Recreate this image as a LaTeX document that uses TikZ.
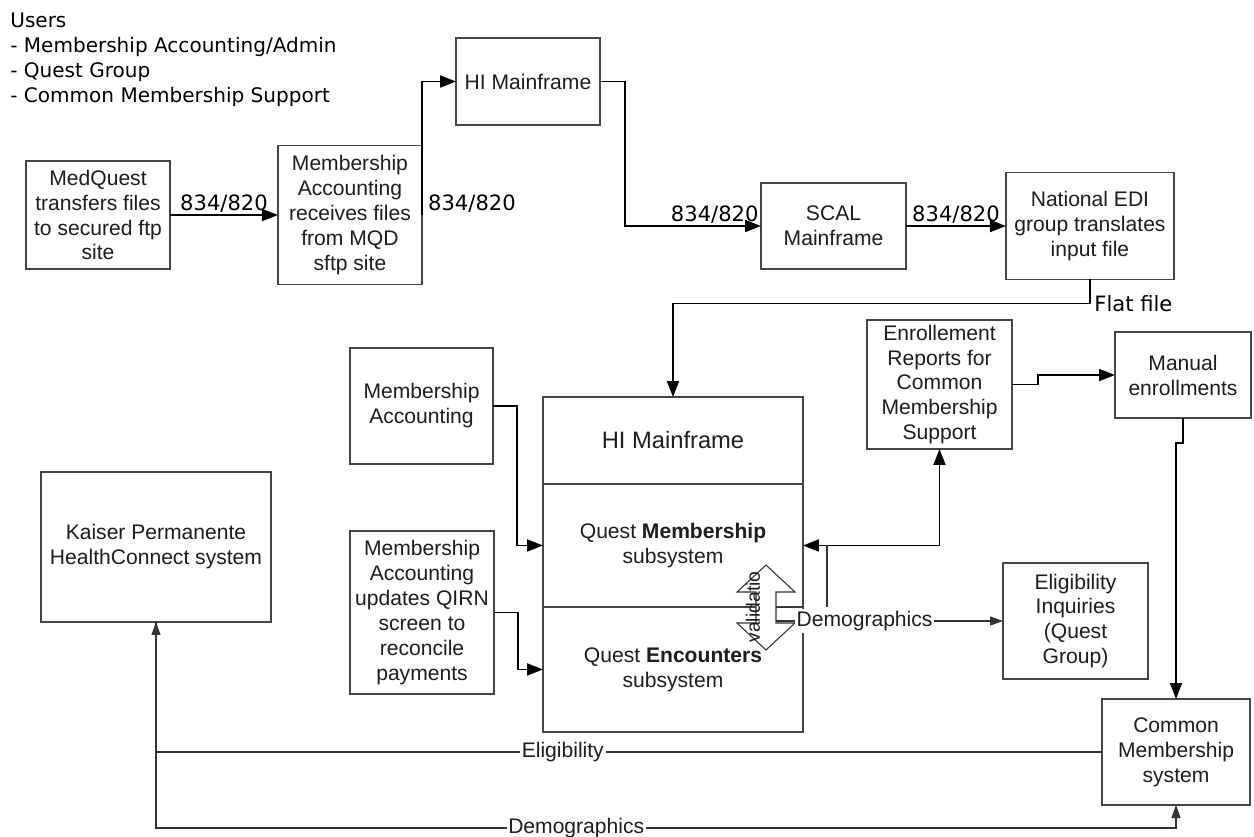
\documentclass[tikz,border=0pt]{standalone}
\usepackage{fontspec}
\setmainfont{Liberation Sans}
\newfontfamily\handfamily{DejaVu Sans}
\usepackage{xcolor}
\definecolor{boxLine}{HTML}{454545}
\definecolor{textDark}{HTML}{1E1E1E}
\definecolor{wireGray}{HTML}{333333}
\usepackage{tikz}
\usetikzlibrary{arrows.meta,positioning,calc}
\newcommand{\diafont}{\fontsize{12}{14.2}\selectfont}
\newcommand{\bigdiafont}{\fontsize{13.5}{16}\selectfont}
\newcommand{\valfont}{\fontsize{11}{13}\selectfont}
\newcommand{\handfont}{\handfamily\fontsize{12}{14.2}\selectfont}
\newcommand{\userfont}{\handfamily\fontsize{11.4}{14.2}\selectfont}
\tikzset{
    box/.style={
        draw=boxLine,
        fill=white,
        rectangle,
        align=center,
        line width=0.8pt,
        inner sep=2pt,
        outer sep=0pt,
        text=textDark,
        font=\diafont
    },
    arrow/.style={
        -{Triangle[length=3.2mm,width=2.4mm]},
        line width=1.1pt,
        color=black
    },
    twoway/.style={
        {Triangle[length=3.2mm,width=2.4mm]}-{Triangle[length=3.2mm,width=2.4mm]},
        line width=1.1pt,
        color=black
    },
    wire/.style={
        line width=0.6pt,
        color=wireGray
    },
    thinarrow/.style={
        -{Triangle[length=2.6mm,width=1.8mm]},
        line width=0.6pt,
        color=wireGray
    },
    filetag/.style={
        font=\handfont,
        inner sep=1pt,
        text=black
    },
    flowtag/.style={
        font=\diafont,
        fill=white,
        inner sep=1pt,
        text=textDark
    }
}

\begin{document}
\begin{tikzpicture}[x=0.02cm, y=-0.02cm]
    \path[fill=white, use as bounding box] (0,0) rectangle (1254,836);

    % Users
    \node[font=\userfont, align=left, anchor=north west, inner sep=0pt] (users) at (10,13)
        {Users\\- Membership Accounting/Admin\\- Quest Group\\- Common Membership Support};

    % Incoming file chain
    \node[box, minimum width=2.88cm, minimum height=2.16cm] (medq) at (98,215)
        {MedQuest\\transfers files\\to secured ftp\\site};
    \node[box, minimum width=2.88cm, minimum height=2.78cm, right=2.16cm of medq] (macc)
        {Membership\\Accounting\\receives files\\from MQD\\sftp site};
    \node[box, minimum width=2.88cm, minimum height=1.74cm] (hi1) at (528,81.5) {HI Mainframe};
    \node[box, minimum width=2.9cm, minimum height=1.72cm] (scal) at (833.5,226) {SCAL\\Mainframe};
    \node[box, minimum width=3.36cm, minimum height=2.14cm, right=2cm of scal] (edi)
        {National EDI\\group translates\\input file};

    % Quest system
    \node[box, minimum width=5.2cm, minimum height=1.74cm, font=\bigdiafont] (hi2) at (673,440.5) {HI Mainframe};
    \node[box, minimum width=5.2cm, minimum height=2.46cm, below=0pt of hi2] (qm)
        {Quest \textbf{Membership}\\subsystem};
    \node[box, minimum width=5.2cm, minimum height=2.5cm, below=0pt of qm] (qe)
        {Quest \textbf{Encounters}\\subsystem};

    % Accounting inputs
    \node[box, minimum width=2.86cm, minimum height=2.32cm] (macc2) at (421.5,406) {Membership\\Accounting};
    \node[box, minimum width=2.88cm, minimum height=3.26cm] (macc3) at (422,612.5)
        {Membership\\Accounting\\updates QIRN\\screen to\\reconcile\\payments};
    \node[box, minimum width=4.6cm, minimum height=3cm] (kaiser) at (156,547)
        {Kaiser Permanente\\HealthConnect system};

    % Outputs
    \node[box, minimum width=2.9cm, minimum height=2.58cm] (enr) at (939.5,384.5)
        {Enrollement\\Reports for\\Common\\Membership\\Support};
    \node[box, minimum width=2.72cm, minimum height=1.72cm] (manual) at (1183,375) {Manual\\enrollments};
    \node[box, minimum width=2.9cm, minimum height=2.32cm] (elig) at (1075.5,621)
        {Eligibility\\Inquiries\\(Quest\\Group)};
    \node[box, minimum width=2.96cm, minimum height=2.12cm] (cms) at (1176,752)
        {Common\\Membership\\system};

    % File transfer arrows
    \draw[arrow] (medq.east) -- node[filetag, above] {834/820} (macc.west);
    \draw[arrow] (macc.east) node[filetag, anchor=south west, xshift=2pt] {834/820} |- (hi1.west);
    \draw[arrow] (hi1.east) -- ++(25,0) |- node[filetag, pos=0.83, above] {834/820} (scal.west);
    \draw[arrow] (scal.east) -- node[filetag, above] {834/820} (edi.west);
    \draw[arrow] (edi.south) -- ++(0,24) node[filetag, anchor=west, xshift=1pt] {Flat file} -| (hi2.north);

    % Into Quest
    \draw[arrow] (macc2.east) -- ++(24,0) |- (qm.west);
    \draw[arrow] (macc3.east) -- ++(24,0) |- (qe.west);
    \draw[twoway] (qm.east) -| (enr.south);
    \draw[arrow] (enr.east) -- ++(26,0) |- (manual.west);
    \draw[arrow] (manual.south) -- ++(0,25) -| (cms.north);

    % Validation
    \coordinate (valc) at (766,607.5);
    \draw[wire, fill=white] (valc) ++(0,-42.5) -- ++(29,27) -- ++(-19,0) -- ++(0,31) -- ++(19,0)
        -- ++(-29,27) -- ++(-29,-27) -- ++(19,0) -- ++(0,-31) -- ++(-19,0) -- cycle;
    \node[font=\valfont, rotate=90, inner sep=0pt, text=textDark] (val) at (753,607) {validatio};
    \coordinate (valin) at (776,607.5);
    \coordinate (valout) at (776,621);
    \coordinate (demotap) at (827,607);
    \draw[wire] (qm.south east) -- (valin);
    \draw[wire] (demotap |- qm.east) -- (demotap);
    \draw[thinarrow] (valout) -- node[flowtag, pos=0.39] {Demographics} (elig.west);

    % Common Membership / Kaiser
    \draw[thinarrow] (cms.west) -| node[flowtag, pos=0.285] {Eligibility} (kaiser.south);
    \draw[thinarrow] (kaiser.south) -- ++(0,206) -| node[flowtag, pos=0.206] {Demographics} (cms.south);
\end{tikzpicture}
\end{document}
